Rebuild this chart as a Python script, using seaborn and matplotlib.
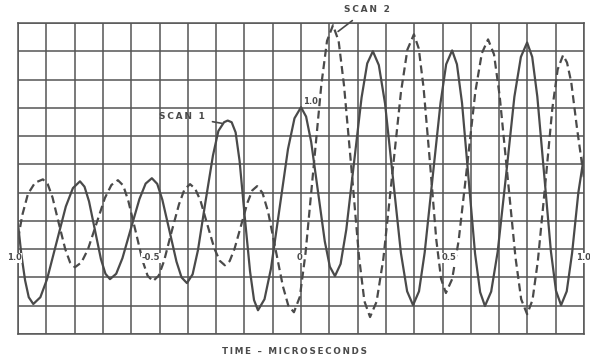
import numpy as np
import matplotlib
matplotlib.use("Agg")
import matplotlib.pyplot as plt
import seaborn as sns
import pandas as pd

# Scan 1 (solid trace): time in microseconds, amplitude in grid divisions
scan1_time = [-1.0, -0.988, -0.975, -0.962, -0.946,
              -0.921, -0.897, -0.864, -0.831, -0.806, -0.781,
              -0.765, -0.749, -0.728, -0.707, -0.691, -0.675,
              -0.653, -0.631, -0.601, -0.571, -0.549, -0.527,
              -0.508, -0.490, -0.465, -0.440, -0.422, -0.403,
              -0.383, -0.364, -0.338, -0.311, -0.292, -0.272, -0.259, -0.245,
              -0.231, -0.217, -0.199, -0.180, -0.166, -0.152,
              -0.129, -0.106, -0.076, -0.046, -0.023, 0.0,
              0.018, 0.036, 0.060, 0.084, 0.102, 0.120,
              0.140, 0.160, 0.187, 0.214, 0.234, 0.254,
              0.275, 0.297, 0.325, 0.353, 0.375, 0.396,
              0.417, 0.437, 0.465, 0.493, 0.513, 0.534,
              0.551, 0.569, 0.592, 0.615, 0.633, 0.650,
              0.672, 0.695, 0.725, 0.754, 0.777, 0.799,
              0.817, 0.835, 0.859, 0.883, 0.901, 0.919,
              0.939, 0.958, 0.980, 1.0]
scan1_amp = [0.9, -0.2, -1.1, -1.7, -1.94,
             -1.70, -1.05, 0.23, 1.51, 2.16, 2.40,
             2.21, 1.69, 0.67, -0.35, -0.87, -1.06,
             -0.87, -0.32, 0.73, 1.77, 2.32, 2.51,
             2.31, 1.75, 0.66, -0.44, -1.00, -1.20,
             -0.89, -0.03, 1.65, 3.32, 4.18, 4.49, 4.55, 4.49,
             4.13, 3.12, 1.17, -0.79, -1.80, -2.16,
             -1.77, -0.68, 1.43, 3.54, 4.63, 5.02,
             4.69, 3.79, 2.04, 0.28, -0.62, -0.95,
             -0.52, 0.69, 3.03, 5.36, 6.57, 7.00,
             6.51, 5.15, 2.51, -0.13, -1.49, -1.98,
             -1.49, -0.12, 2.53, 5.17, 6.54, 7.03,
             6.54, 5.17, 2.51, -0.15, -1.52, -2.01,
             -1.50, -0.09, 2.65, 5.39, 6.80, 7.31,
             6.80, 5.40, 2.67, -0.07, -1.47, -1.98,
             -1.49, -0.13, 2.0, 3.3]

# Scan 2 (dashed trace)
scan2_time = [-1.0, -0.985, -0.965, -0.94, -0.912,
              -0.895, -0.878, -0.856, -0.833, -0.816, -0.799,
              -0.776, -0.753, -0.723, -0.693, -0.670, -0.647,
              -0.628, -0.610, -0.585, -0.560, -0.542, -0.523,
              -0.503, -0.484, -0.458, -0.431, -0.412, -0.392,
              -0.374, -0.355, -0.331, -0.306, -0.287, -0.269,
              -0.252, -0.235, -0.212, -0.189, -0.172, -0.155,
              -0.136, -0.116, -0.090, -0.064, -0.045, -0.025,
              -0.004, 0.016, 0.044, 0.072, 0.092, 0.113,
              0.133, 0.152, 0.179, 0.205, 0.224, 0.244,
              0.267, 0.291, 0.322, 0.353, 0.376, 0.399,
              0.416, 0.433, 0.456, 0.478, 0.495, 0.512,
              0.534, 0.557, 0.587, 0.616, 0.639, 0.661,
              0.682, 0.702, 0.730, 0.758, 0.778, 0.799,
              0.818, 0.837, 0.863, 0.888, 0.907, 0.926,
              0.94, 0.955, 0.975, 1.0]
scan2_amp = [0.35, 1.2, 1.95, 2.35, 2.47,
             2.30, 1.83, 0.92, 0.00, -0.47, -0.64,
             -0.47, -0.01, 0.90, 1.81, 2.27, 2.44,
             2.25, 1.70, 0.66, -0.40, -0.94, -1.13,
             -0.94, -0.42, 0.59, 1.59, 2.11, 2.30,
             2.14, 1.71, 0.87, 0.02, -0.41, -0.57,
             -0.42, 0.01, 0.83, 1.65, 2.08, 2.23,
             1.99, 1.31, 0.00, -1.31, -1.99, -2.23,
             -1.68, -0.14, 2.85, 5.83, 7.37, 7.92,
             7.36, 5.79, 2.76, -0.27, -1.84, -2.40,
             -1.86, -0.34, 2.60, 5.54, 7.06, 7.60,
             7.10, 5.72, 3.03, 0.34, -1.05, -1.55,
             -1.06, 0.30, 2.94, 5.57, 6.93, 7.42,
             6.89, 5.42, 2.56, -0.30, -1.77, -2.30,
             -1.80, -0.41, 2.28, 4.97, 6.36, 6.86,
             6.6, 5.9, 4.3, 2.5]

axis_marks = [-1.0, -0.5, 0.0, 0.5, 1.0]
axis_mark_text = ["1.0", "-0.5", "0", "0.5", "1.0"]

ink = "#4a4a4a"


def spaced(s):
    # wide hand lettering: thin space between the letters
    return "\u2009".join(s)


df = pd.concat([
    pd.DataFrame({"time": scan1_time, "amp": scan1_amp, "scan": "SCAN 1"}),
    pd.DataFrame({"time": scan2_time, "amp": scan2_amp, "scan": "SCAN 2"}),
])

sns.set_style("white")
fig = plt.figure(figsize=(5.9, 3.59), dpi=100)
ax = fig.add_axes([18 / 590, 1 - 334 / 359, 566 / 590, 311 / 359])

sns.lineplot(data=df, x="time", y="amp", style="scan", color=ink,
             dashes={"SCAN 1": "", "SCAN 2": (3.6, 2.0)},
             estimator=None, sort=False, linewidth=1.6, legend=False, ax=ax)

# scope graticule
ax.set_xlim(-1.0, 1.0)
ax.set_ylim(-3, 8)
ax.set_xticks(np.linspace(-1.0, 1.0, 21))
ax.set_yticks(np.arange(-3, 9, 1))
ax.grid(True, color="#555555", linewidth=1.1)
ax.tick_params(length=0, labelbottom=False, labelleft=False)
for sp in ax.spines.values():
    sp.set_color("#555555")
    sp.set_linewidth(1.1)
ax.set_xlabel("")
ax.set_ylabel("")

# hand lettered marks on the zero line
offsets = [-0.014, -0.03, -0.004, 0.023, -0.003]
for xm, lab, dx in zip(axis_marks, axis_mark_text, offsets):
    ax.text(xm + dx, -0.3, lab, ha="center", va="center", fontsize=6,
            fontweight="bold", color=ink, clip_on=False,
            bbox=dict(boxstyle="square,pad=0.05", fc="white", ec="none"))
ax.text(0.032, 5.23, "1.0", ha="center", va="center", fontsize=6,
        fontweight="bold", color=ink)

# trace labels
ax.annotate(spaced("SCAN 1"), xy=(-0.279, 4.45), xytext=(-0.42, 4.7),
            ha="center", va="center", fontsize=6.5, fontweight="bold", color=ink,
            arrowprops=dict(arrowstyle="-", color=ink, lw=1.2, shrinkA=3, shrinkB=0))
ax.annotate(spaced("SCAN 2"), xy=(0.131, 7.7), xytext=(0.233, 8.48),
            ha="center", va="center", fontsize=6.5, fontweight="bold", color=ink,
            annotation_clip=False,
            arrowprops=dict(arrowstyle="-", color=ink, lw=1.2, shrinkA=4, shrinkB=0))

fig.text(295 / 590, 1 - 352 / 359, spaced("TIME \u2013 MICROSECONDS"), ha="center",
         va="center", fontsize=6.3, fontweight="bold", color=ink)

fig.savefig("out.png", dpi=100, facecolor="white")
